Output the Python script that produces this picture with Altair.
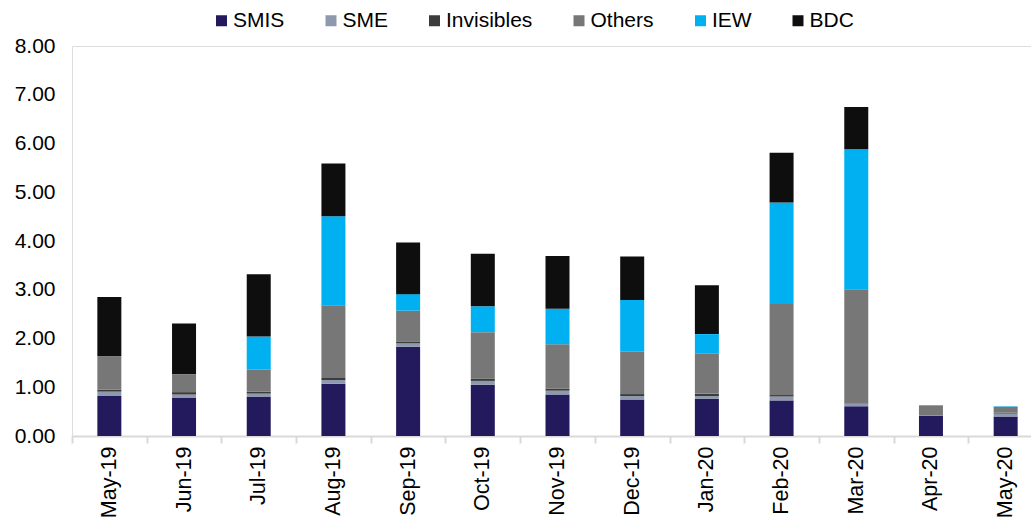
import altair as alt
import pandas as pd

months = ["May-19", "Jun-19", "Jul-19", "Aug-19", "Sep-19", "Oct-19", "Nov-19",
          "Dec-19", "Jan-20", "Feb-20", "Mar-20", "Apr-20", "May-20"]
series = ["SMIS", "SME", "Invisibles", "Others", "IEW", "BDC"]
colors = ["#231a5e", "#8e99ae", "#3c3c3c", "#777777", "#00b0f0", "#0e0e0e"]

smis = [0.82, 0.78, 0.80, 1.07, 1.83, 1.05, 0.85, 0.75, 0.76, 0.73, 0.61, 0.42, 0.40]
sme = [0.09, 0.07, 0.07, 0.08, 0.07, 0.08, 0.08, 0.07, 0.06, 0.08, 0.05, 0.01, 0.06]
invisibles = [0.04, 0.05, 0.04, 0.04, 0.03, 0.05, 0.04, 0.04, 0.05, 0.03, 0.01, 0.00, 0.02]
others = [0.69, 0.37, 0.45, 1.49, 0.64, 0.95, 0.91, 0.87, 0.82, 1.87, 2.34, 0.20, 0.12]
iew = [0.00, 0.00, 0.68, 1.83, 0.34, 0.53, 0.73, 1.06, 0.40, 2.08, 2.87, 0.00, 0.01]
bdc = [1.21, 1.04, 1.28, 1.08, 1.06, 1.08, 1.08, 0.89, 1.00, 1.02, 0.87, 0.00, 0.00]

values = {"SMIS": smis, "SME": sme, "Invisibles": invisibles,
          "Others": others, "IEW": iew, "BDC": bdc}

rows = []
for si, s in enumerate(series):
    for mi, m in enumerate(months):
        rows.append({"month": m, "series": s, "order": si, "value": values[s][mi]})
df = pd.DataFrame(rows)

FONT = "Liberation Sans"

chart = alt.Chart(df).mark_bar(size=24).encode(
    x=alt.X("month:N", sort=months, title=None,
            scale=alt.Scale(range=[0, 971], paddingInner=0, paddingOuter=0),
            axis=alt.Axis(labelAngle=-90, labelFontSize=21.5, labelColor="#000000",
                          labelFont=FONT, labelPadding=3, labelLimit=300,
                          domainColor="#d9d9d9", domainWidth=2,
                          tickColor="#d9d9d9", tickWidth=2, tickSize=7,
                          tickBand="extent", grid=False)),
    y=alt.Y("value:Q", stack="zero", title=None,
            scale=alt.Scale(domain=[0, 8], nice=False),
            axis=alt.Axis(values=[0, 1, 2, 3, 4, 5, 6, 7, 8], format=".2f",
                          labelFontSize=21, labelColor="#000000", labelFont=FONT,
                          ticks=False, domain=False, grid=False, labelPadding=17)),
    color=alt.Color("series:N", sort=series, title=None,
                    scale=alt.Scale(domain=series, range=colors),
                    legend=alt.Legend(orient="none", legendX=139, legendY=-36,
                                      direction="horizontal", columns=6,
                                      columnPadding=35.5, symbolType="square",
                                      symbolSize=121, symbolStrokeWidth=0,
                                      labelOffset=1, labelFontSize=21,
                                      labelFont=FONT, labelColor="#000000")),
    order=alt.Order("order:Q", sort="ascending"),
).properties(
    width=959, height=390,
    autosize=alt.AutoSizeParams(type="none"),
    padding={"left": 72, "top": 46, "right": 0, "bottom": 83},
).configure_view(stroke=None).configure(font=FONT, background="white")

chart.save("out.html", embed_options={"renderer": "svg", "actions": False})
